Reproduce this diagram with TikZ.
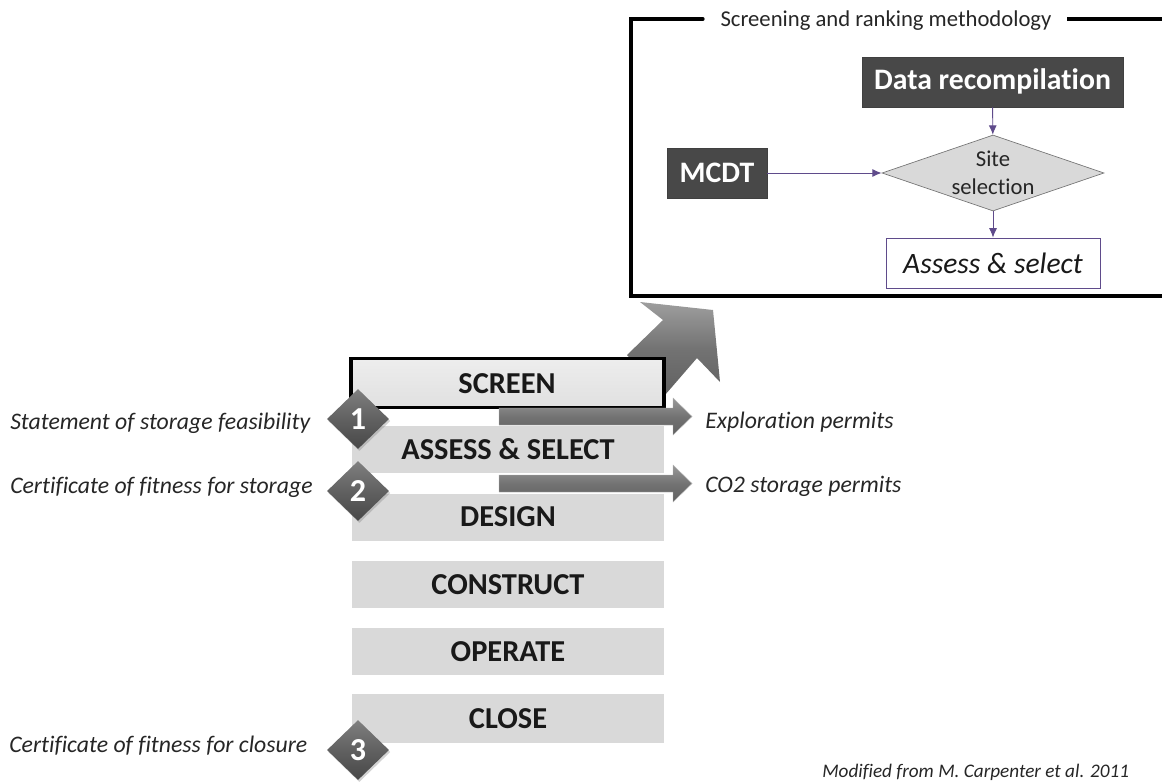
\documentclass[tikz,border=0pt]{standalone}
\usepackage{fontspec}
\setmainfont[Ligatures=NoCommon,Contextuals=NoAlternate]{Carlito}
\usetikzlibrary{shapes.geometric,arrows.meta,shadows}
\definecolor{darkbox}{HTML}{484848}
\definecolor{stage}{HTML}{D9D9D9}
\definecolor{violet}{HTML}{5F4B8B}
\tikzset{
  stagebox/.style={fill=stage,draw=none,minimum width=312*0.75pt,minimum height=47*0.75pt,inner sep=0pt,text height=14.4pt,text depth=0pt,font=\fontsize{22.8}{22.8}\selectfont\bfseries,text=black!90},
  darkstep/.style={fill=darkbox,draw=black!75,line width=.6pt,text=white,inner sep=0pt,font=\bfseries},
  gate/.style={diamond,aspect=1,inner sep=0pt,minimum width=62*0.75pt,minimum height=60*0.75pt,top color=black!50,bottom color=black!72,middle color=black!62,text=white,font=\fontsize{24}{24}\selectfont\bfseries,drop shadow={shadow xshift=1pt,shadow yshift=-1.5pt,opacity=.35}},
  note/.style={inner sep=0pt,font=\fontsize{17.8}{17.8}\selectfont\itshape,text=black!85},
  flow/.style={draw=violet,line width=.7pt,-{Latex[length=7pt,width=6pt]}},
  blockarrow/.style={top color=black!40,bottom color=black!62,middle color=black!55,draw=black!30,line width=.3pt},
}
\begin{document}
\begin{tikzpicture}[x=0.75pt,y=-0.75pt]
\useasboundingbox (0,0) rectangle (1162,781);
% big arrow behind the screen box
\path[blockarrow,top color=black!38,bottom color=black!62,middle color=black!55,draw=none]
  (627,355) -- (663,320) -- (640,302) -- (713,310) -- (720,382) -- (697,358) -- (665,395) -- cycle;
% frame
\draw[line width=2.4pt,line cap=round,line join=miter] (703,19) -- (631,19) -- (631,296) -- (1162,296);
\draw[line width=2.4pt] (1067,19) -- (1162,19);
\node[inner sep=0pt,font=\fontsize{17}{17}\selectfont,text=black!85] (title) at (886,21) {Screening and ranking methodology};
% flow chart
\node[darkstep,minimum width=261*0.75pt,minimum height=50*0.75pt,text height=14.4pt,text depth=3pt,font=\fontsize{22.3}{22.3}\selectfont\bfseries] (data) at (992.5,82) {Data recompilation};
\node[darkstep,minimum width=100*0.75pt,minimum height=50*0.75pt,text height=14.4pt,text depth=0pt,font=\fontsize{22.3}{22.3}\selectfont\bfseries] (mcdt) at (717,173) {MCDT};
\node[diamond,aspect=2.92,fill=stage,draw=black!55,line width=.5pt,inner sep=0pt,minimum width=222*0.75pt,minimum height=76*0.75pt] (site) at (993,173) {};
\node[inner sep=0pt,align=center,font=\fontsize{17}{21}\selectfont,text=black!85] (sitetext) at (993,173) {Site\\selection};
\node[draw=violet,line width=.7pt,fill=white,inner sep=0pt,minimum width=214*0.75pt,minimum height=50*0.75pt,font=\fontsize{22.2}{22.2}\selectfont\itshape,text=black!90] (assessbox) at (993,263) {Assess \& select};
\draw[flow] (data) -- (site);
\draw[flow] (mcdt) -- (site);
\draw[flow] (site) -- (assessbox);
% stages
\shade[top color=black!7,bottom color=black!12] (351,359) rectangle (663,407);
\draw[line width=2.4pt] (351,358.5) rectangle (664,407.5);
\node[inner sep=0pt,font=\fontsize{22.8}{22.8}\selectfont\bfseries,text=black!90] (screentext) at (507,384) {SCREEN};
\node[stagebox] (assess) at (508,449.5) {ASSESS \& SELECT};
\node[stagebox] (design) at (508,517) {DESIGN};
\node[stagebox] (construct) at (508,584.5) {CONSTRUCT};
\node[stagebox] (operate) at (508,651.5) {OPERATE};
\node[stagebox,minimum height=49*0.75pt] (close) at (508,718.5) {CLOSE};
% permit arrows
\path[blockarrow] (499,408) -- (673,408) -- (673,398) -- (692,416.5) -- (673,435) -- (673,425) -- (499,425) -- cycle;
\path[blockarrow] (499,475) -- (673,475) -- (673,465) -- (692,483.5) -- (673,502) -- (673,492) -- (499,492) -- cycle;
% gates
\node[gate] (g1) at (358,419) {1};
\node[gate] (g2) at (358,491) {2};
\node[gate] (g3) at (358,750) {3};
% notes
\node[note,anchor=west] (n1) at (10,423) {Statement of storage feasibility};
\node[note,anchor=west] (n2) at (10,487) {Certificate of fitness for storage};
\node[note,anchor=west] (n3) at (9,746) {Certificate of fitness for closure};
\node[note,anchor=west] (n4) at (705,422) {Exploration permits};
\node[note,anchor=west] (n5) at (705,486) {CO2 storage permits};
\node[note,anchor=west,font=\fontsize{14.4}{14.4}\selectfont\itshape] (n6) at (822,772) {Modified from M. Carpenter et al. 2011};
\end{tikzpicture}
\end{document}
